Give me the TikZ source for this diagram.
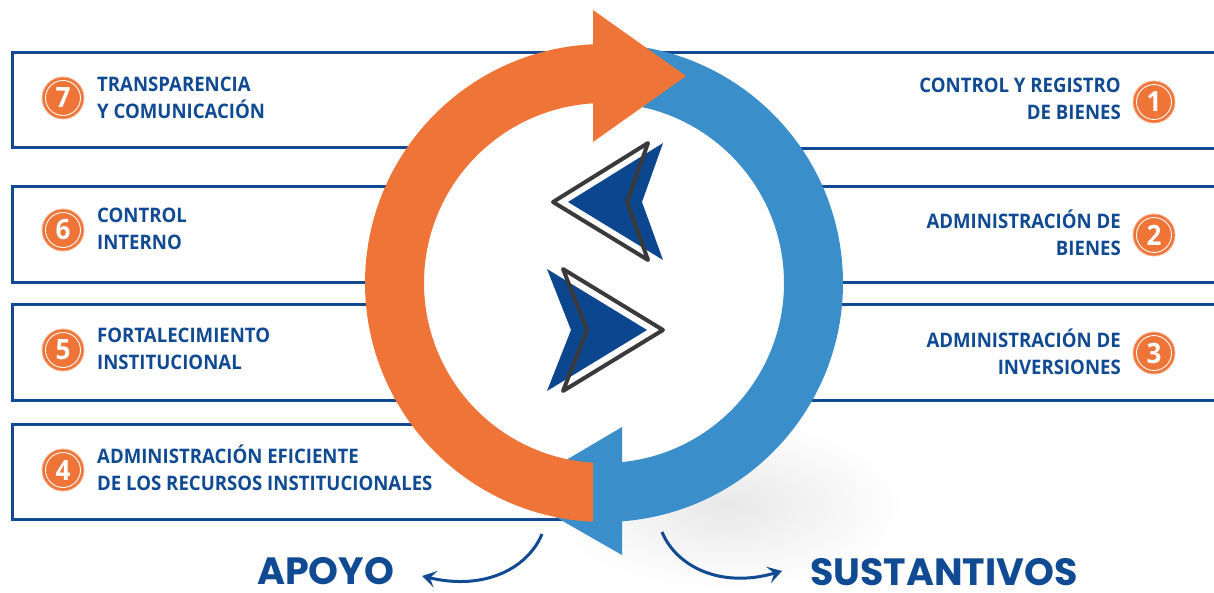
\documentclass[tikz,border=0pt]{standalone}
\usepackage{fontspec}
\setmainfont{Open Sans}[FakeStretch=0.93]
\newfontfamily\popfont{Poppins}
\usetikzlibrary{arrows.meta,calc}
\definecolor{dblue}{RGB}{16,74,146}
\definecolor{orangeC}{RGB}{239,116,56}
\definecolor{ringblue}{RGB}{58,143,202}
\definecolor{navyC}{RGB}{12,70,142}
\definecolor{outlineC}{RGB}{58,58,60}
\begin{document}
\begin{tikzpicture}[x=1pt,y=-1pt,
  boxline/.style={draw=dblue, line width=3pt},
  lbl/.style={text=dblue, font=\fontsize{20}{27}\selectfont\bfseries, inner sep=0pt},
  numc/.style={circle, fill=orangeC, draw=orangeC!55, line width=0.8pt, minimum size=42pt, inner sep=0pt, text=white, font=\fontsize{28}{28}\selectfont\bfseries,
    path picture={\draw[white,line width=0.9pt] (path picture bounding box.center) circle[radius=17.5pt];}},
  chev/.style={draw=outlineC, line width=4pt, line join=round},
  curv/.style={draw=dblue, line width=3pt, -{Stealth[length=14pt,width=17pt,inset=6pt]}},
  big/.style={text=dblue, font=\popfont\bfseries\fontsize{38}{38}\selectfont, inner sep=0pt}
]
\useasboundingbox (0,0) rectangle (1214,592);
\coordinate (C) at (604,283);

% shadow
\shade[inner color=black!9, outer color=white] (725,505) ellipse [x radius=180, y radius=85];

% left boxes
\draw[boxline] (604,52) -- (12,52) -- (12,147) -- (604,147);
\draw[boxline] (604,186) -- (12,186) -- (12,282) -- (604,282);
\draw[boxline] (604,304) -- (12,304) -- (12,400) -- (604,400);
\draw[boxline] (604,424) -- (12,424) -- (12,519) -- (604,519);
% right boxes
\draw[boxline] (604,52) -- (1216,52);
\draw[boxline] (604,148) -- (1216,148);
\draw[boxline] (604,186) -- (1216,186);
\draw[boxline] (604,282) -- (1216,282);
\draw[boxline] (604,304) -- (1216,304);
\draw[boxline] (604,400) -- (1216,400);

% ring interior
\fill[white] (C) circle[radius=181];

% blue ring and head
\fill[ringblue] ($(C)+(-92:239)$) arc[start angle=-92, end angle=85.7, radius=239]
  -- ($(C)+(85.7:180)$) arc[start angle=85.7, end angle=-92, radius=180] -- cycle;
\fill[ringblue] (622,427) -- (512,492) -- (622,555) -- cycle;

% orange ring and head
\fill[orangeC] ($(C)+(92.6:239)$) arc[start angle=92.6, end angle=267.4, radius=239]
  -- ($(C)+(266.5:180)$) arc[start angle=266.5, end angle=93.5, radius=180] -- cycle;
\fill[orangeC] (593,10) -- (686,76) -- (593,142) -- cycle;

% central chevrons
\fill[navyC] (663,143) -- (642,202) -- (663,260) -- (568,202) -- cycle;
\draw[chev] (648,143) -- (627,202) -- (648,260) -- (553,202) -- cycle;
\fill[navyC] (547,269) -- (571,330) -- (547,391) -- (647,330) -- cycle;
\draw[chev] (563,269) -- (587,330) -- (563,391) -- (663,330) -- cycle;

% numbers
\node[numc] (n7) at (63,98) {7};
\node[numc] (n6) at (63,230) {6};
\node[numc] (n5) at (63,350) {5};
\node[numc] (n4) at (63,470) {4};
\node[numc] (n1) at (1154,102) {1};
\node[numc] (n2) at (1154,235) {2};
\node[numc] (n3) at (1154,353) {3};

% labels
\node[lbl, anchor=west, align=left] (t7) at (97,98) {TRANSPARENCIA\\Y COMUNICACIÓN};
\node[lbl, anchor=west, align=left] (t6) at (97,229) {CONTROL\\INTERNO};
\node[lbl, anchor=west, align=left] (t5) at (97,349) {FORTALECIMIENTO\\INSTITUCIONAL};
\node[lbl, anchor=west, align=left] (t4) at (97,468) {ADMINISTRACIÓN EFICIENTE\\DE LOS RECURSOS INSTITUCIONALES};
\node[lbl, anchor=east, align=right] (t1) at (1121,99) {CONTROL Y REGISTRO\\DE BIENES};
\node[lbl, anchor=east, align=right] (t2) at (1121,233) {ADMINISTRACIÓN DE\\BIENES};
\node[lbl, anchor=east, align=right] (t3) at (1121,352) {ADMINISTRACIÓN DE\\INVERSIONES};

% bottom
\node[big, anchor=base west] (apoyo) at (257,584) {APOYO};
\node[big, anchor=base west] (sust) at (810,585) {SUSTANTIVOS};
\coordinate (la) at (542,534);
\coordinate (lb) at (422,576);
\coordinate (ra) at (662,532);
\coordinate (rb) at (782,571);
\draw[curv] (la) .. controls (528,568) and (485,591) .. (lb);
\draw[curv] (ra) .. controls (676,566) and (720,589) .. (rb);
\end{tikzpicture}
\end{document}
